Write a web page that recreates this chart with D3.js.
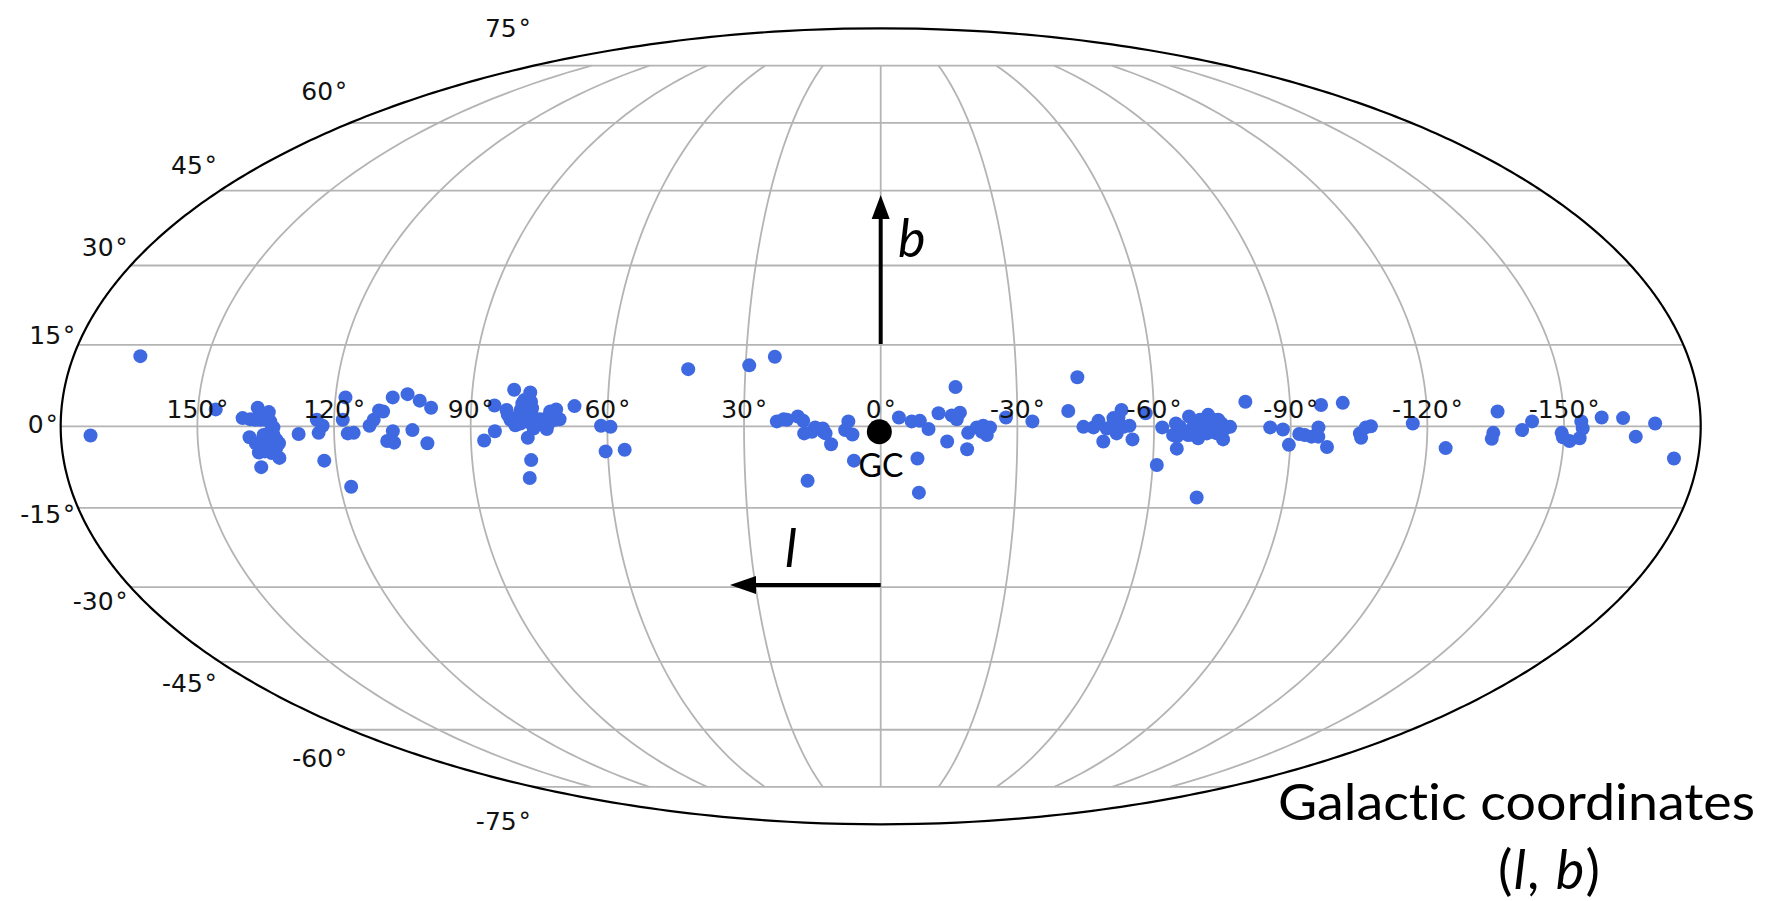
<!DOCTYPE html>
<html>
<head>
<meta charset="utf-8">
<title>Galactic coordinates</title>
<script src="https://cdn.jsdelivr.net/npm/d3@7"></script>
<style>
  html, body { margin: 0; padding: 0; background: white; }
  svg { display: block; }
  text { font-variant-ligatures: none; }
</style>
</head>
<body>
<div id="chart"></div>
<script>
// source positions (degrees)
var glon = [
  173.5, 165.1, 146.1, 140.1, 136.9, 134.4, 138.4, 136.2, 134.0, 134.0, 138.6, 137.3, 134.7, 132.7, 136.8, 134.7, 132.9, 134.0, 132.4, 136.7,
  135.5, 135.8, 133.6, 132.2, 135.5, 133.3, 137.3, 135.1, 133.3,
  127.8, 123.8, 122.5, 123.4, 122.6, 117.8, 118.1, 117.0, 115.7, 117.6, 112.2, 111.3, 110.2, 109.3, 107.4, 104.2, 101.4, 98.8, 107.1, 108.4, 106.9, 102.8, 99.6,
  84.9, 82.2, 81.9, 80.8, 77.2, 78.4, 77.7, 79.1, 76.6, 79.9, 78.4, 76.9, 80.2, 75.9, 74.8, 73.3, 72.6, 71.3, 70.5, 71.8, 76.2, 73.3, 77.5, 77.0, 77.7, 84.7, 87.1,
  81.3, 79.1, 77.7, 76.2, 74.8, 72.9, 71.5, 78.1, 76.6, 78.8, 76.9,
  67.3, 61.4, 59.3, 60.5, 56.3, 42.7, 29.2, 23.6, 22.8, 20.6, 18.2, 17.0, 14.4, 16.8, 15.1, 12.6, 12.1, 10.9, 16.2, 21.3, 12.7,
  7.1, 7.8, 6.2, 5.9, -4.0, -6.8, -8.6, -10.5, -12.7, -15.6, -17.4, -16.7, -16.5, -14.6, -19.0, -8.1, -8.5, -19.2, -21.1, -22.5, -24.0, -23.3, -22.2, -27.5, -33.3,
  -41.2, -43.5, -44.5, -46.7, -47.8, -48.9, -49.6, -51.8, -52.2, -52.9, -53.3, -54.6, -55.3, -58.2, -61.8, -64.8, -65.1, -60.9, -70.5, -65.0, -66.1, -67.7, -69.7, -68.6, -70.8, -71.9, -73.0, -74.1, -75.2, -76.0, -73.8, -71.6, -67.5, -80.2, -74.8,
  -67.2, -68.6, -70.5, -72.3, -74.5, -70.1, -73.0, -76.7, -75.2, -64.2, -65.7, -50.7, -52.2, -51.1,
  -85.5, -88.3, -89.7, -91.9, -93.1, -94.6, -96.1, -96.1, -96.8, -101.6, -98.1, -105.2, -105.5, -106.5, -107.6, -116.8, -124.2, -135.5, -134.5, -134.2, -140.8, -143.0,
  -149.5, -149.8, -151.3, -153.5, -154.1, -153.8, -158.3, -163.0, -165.8, -170.0, -174.7
];
var glat = [
  -1.7, 12.9, 3.1, 1.5, 3.4, 2.6, 1.3, 1.2, 0.9, -1.0, -2.0, -3.1, -1.9, -2.5, -4.8, -3.7, -4.0, -4.9, -5.8, -7.5,
  -1.6, -3.1, -2.8, -3.1, -4.6, -1.6, 1.2, 1.2, -0.2,
  -1.4, 1.2, 0.1, -1.2, -6.3, 5.3, 1.2, -1.3, -1.2, -11.1, 0.1, 1.2, 2.9, 2.7, 5.3, 5.9, 4.7, 3.4, -0.9, -2.7, -3.0, -0.7, -3.1,
  3.8, 3.0, 2.1, 6.7, 6.2, 4.8, 3.5, 3.0, 3.3, 1.5, 1.8, 1.5, 0.2, 1.2, 1.3, 1.5, 2.7, 3.1, 1.3, 1.5, -0.4, -0.5, -2.1, -6.2, -9.5, -0.9, -2.6,
  1.2, 0.5, 0.9, 0.5, 0.4, 0.5, 1.2, 2.7, 2.1, 4.2, 4.5,
  3.7, 0.1, -0.1, -4.6, -4.3, 10.5, 11.2, 12.8, 0.9, 1.2, 1.8, 1.0, -0.2, -1.3, -1.0, -1.0, -1.3, -3.3, -10.0, 1.3, -0.4,
  0.9, -0.7, -1.5, -6.3, 1.6, 0.9, 1.0, -0.5, 2.4, 2.0, 2.5, 1.3, 7.2, -2.8, -4.2, -5.9, -12.2, -1.2, -0.2, 0.1, -0.2, -1.6, -1.0, 1.6, 0.9,
  2.8, 9.0, -0.1, -0.2, 1.0, -2.8, -0.4, -1.3, 1.6, 3.0, -0.1, 0.1, -2.4, 2.4, -0.2, 0.5, -4.1, -7.1, -13.1, -1.9, -1.3, 1.8, -2.2, -0.1, -0.1, 2.1, -0.1, 1.2, -2.4, -0.2, -1.3, -1.3, -1.6, 4.5, 0.5,
  -1.0, -1.6, -0.7, -1.0, -1.0, 1.2, 1.2, -0.1, -0.7, -1.6, -0.1, -0.1, 0.2, 1.5,
  -0.2, -0.6, -3.4, -1.4, -1.6, -1.9, -1.9, -0.2, 3.9, 4.3, -3.8, -1.3, -2.1, -0.2, 0, 0.5, -4.0, 2.7, -1.2, -2.3, -0.7, 0.9,
  -1.2, -2.0, -2.7, -2.2, -0.4, 0.9, 1.6, 1.5, -1.9, 0.5, -5.9
];
var galacticCentre = [0.3, -1.0];

var lonTicks = [150, 120, 90, 60, 30, 0, -30, -60, -90, -120, -150];
var latTicks = [75, 60, 45, 30, 15, 0, -15, -30, -45, -60, -75];

var width = 1768,
    height = 901;

var svg = d3.select("#chart").append("svg")
    .attr("width", width)
    .attr("height", height);

// mollweide, longitude grows to the left
function theta(lat) {
    var phi = lat * Math.PI / 180,
        t = phi;
    if (Math.abs(lat) === 90) return phi;
    for (var i = 0; i < 30; i++) {
        t -= (2 * t + Math.sin(2 * t) - Math.PI * Math.sin(phi)) / (2 + 2 * Math.cos(2 * t));
    }
    return t;
}

var x = d3.scaleLinear().domain([1, -1]).range([60.7, 1700.7]),
    y = d3.scaleLinear().domain([-1, 1]).range([824.3, 28.3]);

function px(lon, lat) { return x(lon / 180 * Math.cos(theta(lat))); }
function py(lat) { return y(Math.sin(theta(lat))); }

var line = d3.line()
    .x(function (d) { return px(d[0], d[1]); })
    .y(function (d) { return py(d[1]); });

var grid = svg.append("g")
    .attr("fill", "none")
    .attr("stroke", "#b4b4b4")
    .attr("stroke-width", 1.8);

// meridians stop at the last parallel
grid.selectAll(".meridian")
    .data(lonTicks)
    .enter().append("path")
    .attr("class", "meridian")
    .attr("d", function (lon) {
        return line(d3.range(-75, 75.5, 1).map(function (lat) { return [lon, lat]; }));
    });

grid.selectAll(".parallel")
    .data(latTicks)
    .enter().append("path")
    .attr("class", "parallel")
    .attr("d", function (lat) { return line([[180, lat], [-180, lat]]); });

// outline
var rim = d3.range(-90, 90.5, 0.5);
svg.append("path")
    .attr("fill", "none")
    .attr("stroke", "black")
    .attr("stroke-width", 2.2)
    .attr("d", line(rim.map(function (lat) { return [180, lat]; })
        .concat(rim.slice().reverse().map(function (lat) { return [-180, lat]; }))) + "Z");

// sources
svg.append("g").selectAll("circle")
    .data(glon)
    .enter().append("circle")
    .attr("cx", function (d, i) { return px(d, glat[i]); })
    .attr("cy", function (d, i) { return py(glat[i]); })
    .attr("r", 7)
    .attr("fill", "#3f69e1");

// tick labels
var tickFont = "'DejaVu Sans', sans-serif";

function tickLabel(sel) {
    sel.attr("font-family", tickFont)
        .attr("font-size", 25)
        .attr("fill", "#111");
    sel.append("tspan").text(function (d) { return d; });
    sel.append("tspan").attr("dx", 2).attr("font-size", 24).text("°");
}

svg.append("g").selectAll("text")
    .data(lonTicks)
    .enter().append("text")
    .attr("x", function (d) { return px(d, 0); })
    .attr("y", 418)
    .attr("text-anchor", "middle")
    .call(tickLabel);

// lat labels sit outside the rim, pushed away from the equator
svg.append("g").selectAll("text")
    .data(latTicks)
    .enter().append("text")
    .attr("x", function (d) { return px(180, d) - 3; })
    .attr("y", function (d) { return y(0) - 1.1 * (y(0) - py(d)) + 7; })
    .attr("text-anchor", "end")
    .call(tickLabel);

// galactic centre
svg.append("circle")
    .attr("cx", px(galacticCentre[0], galacticCentre[1]))
    .attr("cy", py(galacticCentre[1]))
    .attr("r", 12.5)
    .attr("fill", "black");

var noteFont = "Lato, sans-serif";

svg.append("text")
    .attr("x", 881)
    .attr("y", 477)
    .attr("text-anchor", "middle")
    .attr("font-family", noteFont)
    .attr("font-size", 32)
    .attr("fill", "black")
    .text("GC");

// b and l arrows
svg.append("path")
    .attr("fill", "black")
    .attr("stroke", "black")
    .attr("stroke-width", 4)
    .attr("d", "M880.7,344V217")
    .clone()
    .attr("stroke", "none")
    .attr("d", "M880.7,195L889.7,219H871.7Z");

svg.append("path")
    .attr("fill", "black")
    .attr("stroke", "black")
    .attr("stroke-width", 4)
    .attr("d", "M880.7,585H754")
    .clone()
    .attr("stroke", "none")
    .attr("d", "M730,585L756,576V594Z");

svg.append("text")
    .attr("x", 898)
    .attr("y", 257)
    .attr("font-family", noteFont)
    .attr("font-style", "italic")
    .attr("font-size", 52)
    .text("b");

svg.append("text")
    .attr("x", 785)
    .attr("y", 567)
    .attr("font-family", noteFont)
    .attr("font-style", "italic")
    .attr("font-size", 52)
    .text("l");

// caption
svg.append("text")
    .attr("x", 1278)
    .attr("y", 820)
    .attr("font-family", noteFont)
    .attr("font-size", 51)
    .attr("textLength", 477)
    .attr("lengthAdjust", "spacingAndGlyphs")
    .text("Galactic coordinates");

var caption = svg.append("text")
    .attr("x", 1498)
    .attr("y", 889)
    .attr("font-family", noteFont)
    .attr("font-size", 54)
    .attr("textLength", 102)
    .attr("lengthAdjust", "spacing");
caption.append("tspan").text("(");
caption.append("tspan").attr("font-style", "italic").text("l");
caption.append("tspan").text(", ");
caption.append("tspan").attr("font-style", "italic").text("b");
caption.append("tspan").text(")");
</script>
</body>
</html>
